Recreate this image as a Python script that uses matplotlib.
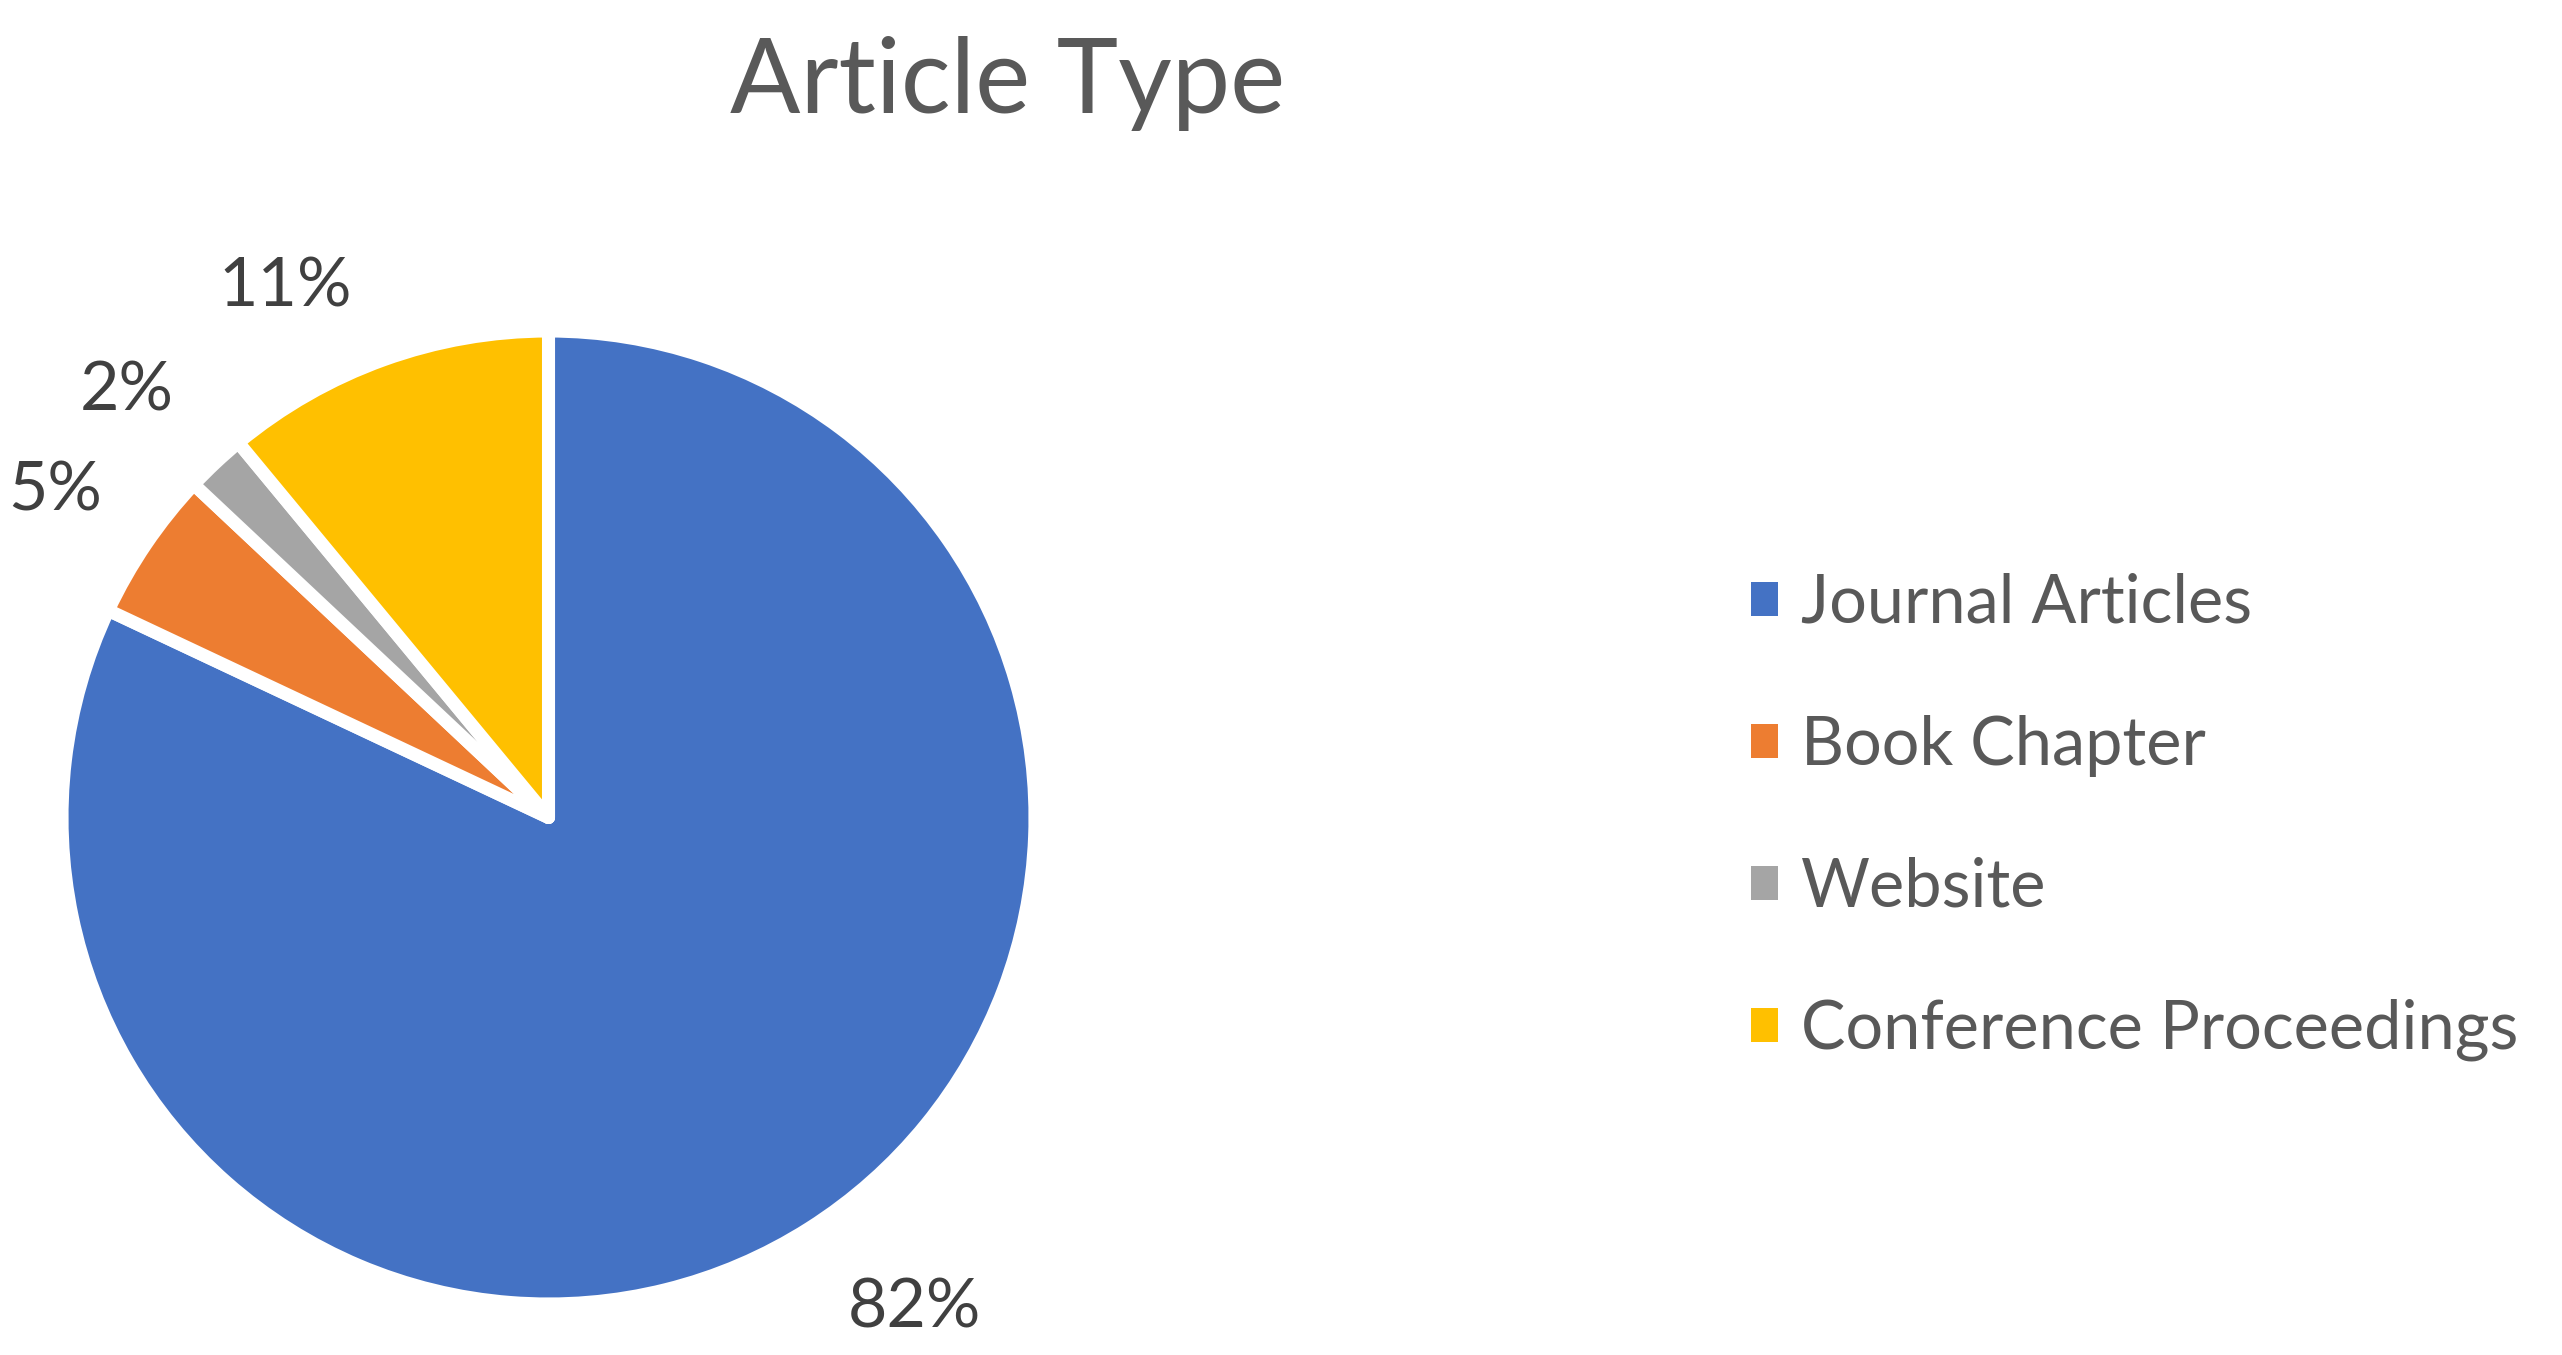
import matplotlib
matplotlib.use("Agg")
import matplotlib.pyplot as plt
from matplotlib.patches import Patch

categories = ["Journal Articles", "Book Chapter", "Website", "Conference Proceedings"]
shares = [82, 5, 2, 11]
colors = ["#4472C4", "#ED7D31", "#A5A5A5", "#FFC000"]
title = "Article Type"

plt.rcParams["font.family"] = ["Lato", "DejaVu Sans"]

W, H, DPI = 2562, 1355, 100
fig = plt.figure(figsize=(W / DPI, H / DPI), dpi=DPI)

# pie: centre (548.5, 817.5) px, wedge radius ~486 px
cx, cy, r = 548.5, 817.5, 486.5
ax = fig.add_axes([(cx - r) / W, (H - cy - r) / H, 2 * r / W, 2 * r / H])
wedges, _, pcts = ax.pie(shares, colors=colors, startangle=90, counterclock=False,
                         autopct="%1.0f%%", pctdistance=1.24,
                         wedgeprops=dict(edgecolor="white", linewidth=9.4,
                                         joinstyle="round"),
                         textprops=dict(fontsize=49, color="#404040"))
ax.set_xlim(-1, 1)
ax.set_ylim(-1, 1)
ax.set_aspect("equal")
ax.axis("off")

# outside-end label tweaks (Excel style placement)
nudges = [(0.088, -0.002), (0.011, -0.065), (-0.018, -0.068), (-0.122, -0.117)]
for t, (dx, dy) in zip(pcts, nudges):
    x, y = t.get_position()
    t.set_position((x + dx, y + dy))
    t.set_va("baseline")
    t.set_ha("center")

fig.text(1008 / W, 1 - 113 / H, title, fontsize=75, color="#595959",
         ha="center", va="baseline")

handles = [Patch(facecolor=c, edgecolor="none") for c in colors]
fig.legend(handles, categories, loc="center left",
           bbox_to_anchor=(1751 / W, 1 - 817 / H), frameon=False,
           fontsize=48, labelcolor="#595959",
           handlelength=0.405, handleheight=0.405, handletextpad=0.35,
           labelspacing=1.2, borderpad=0, borderaxespad=0)

fig.savefig("out.png", dpi=DPI)
